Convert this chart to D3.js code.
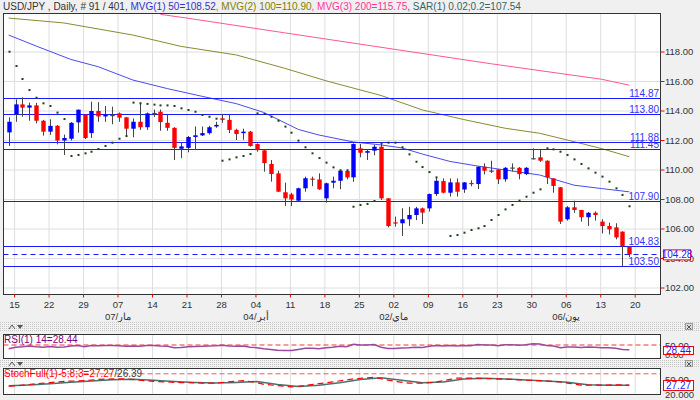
<!DOCTYPE html>
<html><head><meta charset="utf-8">
<script src="https://cdn.jsdelivr.net/npm/d3@7/dist/d3.min.js"></script>
<style>body{margin:0;background:#f0f0f0;}svg{display:block;font-family:"Liberation Sans",Arial,sans-serif;}</style>
</head><body><svg id="c" width="700" height="400"></svg>
<script>
// ---------- data ----------
const opens  =[112.55,113.78,114.45,114.23,114.38,113.34,112.60,113.00,112.00,112.12,113.23,113.75,112.50,114.00,113.63,113.72,113.84,113.57,112.80,113.27,112.90,113.86,113.95,113.20,112.86,111.44,111.50,112.24,112.35,112.50,112.95,113.50,113.40,112.72,112.50,112.60,111.76,111.33,110.41,109.77,108.49,108.35,107.92,108.76,109.42,109.36,108.08,109.14,109.27,109.93,109.50,111.47,111.17,111.31,111.58,108.08,106.45,106.39,106.66,106.95,107.40,107.40,108.37,109.25,108.46,109.16,108.68,109.12,109.05,110.22,109.95,110.04,109.37,110.16,110.15,109.72,110.79,110.86,110.63,109.43,108.83,106.66,107.47,107.29,106.80,107.10,106.50,106.20,106.11,105.82,104.80];
const highs  =[113.57,114.79,114.93,114.57,114.55,113.40,113.44,113.05,112.40,113.25,114.10,113.80,114.63,114.60,114.34,114.29,113.90,113.60,113.50,114.57,113.90,114.10,114.10,113.80,112.90,111.88,112.30,112.95,112.95,113.00,113.27,113.80,113.80,112.80,112.80,112.65,111.80,111.40,110.68,109.95,109.14,108.45,108.80,109.55,109.55,109.77,109.15,109.55,109.98,109.98,111.80,111.76,111.39,111.70,111.85,108.10,106.84,107.41,107.50,107.50,107.45,108.40,109.50,109.43,109.43,109.43,109.18,109.30,110.25,110.45,110.63,110.06,110.20,110.45,110.20,110.20,111.47,111.36,110.65,109.45,108.85,107.55,107.92,107.30,107.15,107.20,106.66,106.43,106.39,105.85,104.85];
const lows   =[111.63,113.27,113.61,113.34,113.16,112.33,112.38,111.74,111.02,112.00,112.53,112.10,112.17,113.27,113.27,113.10,113.27,112.27,112.22,112.72,112.72,113.60,112.66,112.66,110.68,110.80,111.20,111.35,112.30,112.40,112.86,113.20,112.50,112.03,112.05,111.58,111.24,109.89,109.21,108.50,107.56,107.56,107.85,108.53,108.90,108.65,107.79,108.76,108.70,109.37,109.20,110.86,110.68,111.00,107.97,106.11,106.16,105.53,106.20,106.60,106.34,107.18,108.24,108.42,108.20,108.20,108.45,108.90,108.71,109.70,109.80,109.05,109.20,109.90,109.37,109.65,110.72,110.55,109.05,108.46,106.34,106.57,107.10,106.50,106.20,106.57,105.70,105.63,105.30,103.49,104.09];
const closes =[113.27,114.45,114.23,114.38,113.34,112.60,112.99,112.00,112.17,113.20,114.09,112.17,114.00,113.63,113.75,113.73,113.55,112.80,113.27,112.90,113.84,113.87,113.25,112.86,111.50,111.60,112.24,112.35,112.50,112.90,113.06,113.40,112.72,112.44,112.60,111.63,111.35,110.47,109.73,108.53,108.08,108.00,108.76,109.44,109.36,108.69,109.10,109.27,109.95,109.50,111.76,111.17,111.28,111.58,108.08,106.20,106.40,106.66,106.95,107.40,107.11,108.37,109.27,108.46,109.16,108.53,109.16,109.05,110.22,109.95,109.96,109.37,110.15,110.17,109.72,110.15,110.80,110.63,109.50,108.92,106.50,107.47,107.29,106.80,107.10,106.95,106.20,105.98,105.43,104.85,104.28];
const sar    =[118.02,117.05,116.17,115.42,114.90,114.52,114.34,113.89,113.46,110.95,111.02,111.13,111.24,111.42,111.63,111.85,112.12,112.30,114.57,114.52,114.48,114.43,114.38,114.38,114.34,114.18,114.07,113.95,113.73,113.61,113.48,110.63,110.72,110.86,110.95,111.08,113.84,113.80,113.61,113.34,112.94,112.53,111.99,111.54,111.13,110.81,110.50,110.18,109.98,109.98,107.51,107.63,107.70,107.90,111.81,111.85,111.85,111.54,111.06,110.56,110.20,109.86,109.50,null,105.53,105.59,105.75,105.93,106.05,106.20,106.61,106.95,107.33,107.63,107.92,108.19,108.46,108.69,111.47,111.40,111.24,111.02,110.72,110.41,110.11,109.82,109.55,109.21,108.76,108.31,107.54];
const rsi    =[33,40,42,45,42,40,43,40,41,45,48,42,48,47,48,48,47,44,46,44,48,48,45,44,38,39,42,43,44,46,47,49,45,44,45,40,38,33,30,26,25,25,30,35,35,33,38,40,44,42,53,50,50,52,40,34,34,36,37,40,39,44,48,45,48,46,48,47,52,50,50,47,51,51,49,51,56,55,48,45,38,41,41,39,41,40,38,37,35,30,28.44];
const ma50Idx=[0,4,9,13,18,23,28,33,37,42,45,50,54,57,60,64,68,72,77,82,86,90];
const ma50Val=[119.15,118.40,117.50,117.00,116.10,115.52,115.00,114.50,113.90,112.75,112.37,111.90,111.70,111.50,111.08,110.58,110.27,110.00,109.66,108.97,108.74,108.52];
const ma100Idx=[0,8,18,25,33,40,46,54,60,66,72,77,82,86,90];
const ma100Val=[120.30,119.97,119.15,118.38,117.80,116.90,116.05,115.05,114.07,113.42,112.83,112.49,111.92,111.45,110.90];
const ma200Idx=[22,26,40,55,70,86,90];
const ma200Val=[120.55,120.29,119.30,118.25,117.20,116.15,115.75];
const kIdx=[0,2,4,6,8,11,13,16,17,19,21,23,25,28,30,33,34,36,37,40,41,43,45,47,50,53,54,56,58,60,62,64,65,68,70,73,75,77,80,81,83,86,88,90];
const kVal=[22,27,34,39,45,48,54,57,57,50,45,42,39,37,37,46,48,39,31,22,19,26,34,42,57,64,57,45,37,36,42,54,60,60,57,54,50,48,42,37,27,27,29,27.27];
const dIdx=[0,3,6,9,12,15,18,21,24,27,30,33,36,39,42,45,48,51,54,57,60,63,66,69,72,75,78,81,84,87,90];
const dVal=[24,28,34,41,47,52,55,50,44,40,37,40,44,30,21,27,38,54,62,50,38,42,56,59,56,51,47,41,29,27,26.39];
const xTickIdx=[1,6,11,16,21,26,31,36,41,46,51,56,61,66,71,76,81,86,91];
const xTickLabels=["15","22","29","07","14","21","28","04","11","18","25","02","09","16","23","30","06","13","20"];
const monthIdx=[16,36,56,81];
const monthLabels=["07/مار","04/أبر","02/ماي","06/يون"];
const levels=[114.87,113.80,111.88,111.45,107.90,104.83,103.50];
const lastPrice=104.28;
const yTicks=[102,104,106,108,110,112,114,116,118];
const rsiLast="28.44", stochK="27.27", stochD="26.39";

// ---------- drawing ----------
const svg=d3.select("#c");
const L=3.5,R=660.5,T=13.5,B=294.5;
const x=d3.scaleLinear().domain([0,90]).range([8.7,629.3]);
const y=d3.scaleLinear().domain([102,118]).range([288,52]);
const yR=d3.scaleLinear().domain([0,100]).range([356,334]);
const yS=d3.scaleLinear().domain([0,100]).range([391,369.5]);

const defs=svg.append("defs");
const pat=defs.append("pattern").attr("id","dots").attr("width",2).attr("height",2).attr("patternUnits","userSpaceOnUse");
pat.append("rect").attr("width",2).attr("height",2).attr("fill","#f2f2f2");
pat.append("rect").attr("width",1).attr("height",1).attr("fill","#c4c4c4");
function clip(id,y0,y1){defs.append("clipPath").attr("id",id).append("rect").attr("x",L).attr("y",y0).attr("width",R-L).attr("height",y1-y0);}
clip("cm",T,B);clip("cr",334.5,358.5);clip("cs",368.5,394.5);

svg.append("rect").attr("width",700).attr("height",400).attr("fill","#f0f0f0");

// header
const hdr=svg.append("text").attr("x",3).attr("y",10).attr("font-size",10);
[["USD/JPY , Daily, # 91 / 401","#333"],[", MVG(1) 50=108.52","#3333cc"],[", MVG(2) 100=110.90","#808000"],[", MVG(3) 200=115.75","#ff3399"],[", SAR(1) 0.02;0.2=107.54","#336666"]]
 .forEach(d=>hdr.append("tspan").attr("fill",d[1]).text(d[0]));

// main panel
svg.append("rect").attr("x",L).attr("y",T).attr("width",R-L).attr("height",B-T).attr("fill","#fff");
const g=svg.append("g");
g.selectAll(".vg").data(xTickIdx).join("line").attr("x1",d=>x(d)-1).attr("x2",d=>x(d)-1).attr("y1",T).attr("y2",B).attr("stroke","#dedede");
g.selectAll(".hg").data(yTicks).join("line").attr("x1",L).attr("x2",R).attr("y1",d=>y(d)).attr("y2",d=>y(d)).attr("stroke","#dedede");
const pm=svg.append("g").attr("clip-path","url(#cm)");
const ln=(xi,vi,ys)=>d3.line().x((d,i)=>x(xi[i])).y((d,i)=>ys(vi[i]))(xi);
pm.append("path").attr("d",ln(ma200Idx,ma200Val,y)).attr("fill","none").attr("stroke","#ff5599").attr("stroke-width",1);
pm.append("path").attr("d",ln(ma100Idx,ma100Val,y)).attr("fill","none").attr("stroke","#8a8a30").attr("stroke-width",1);
pm.append("path").attr("d",ln(ma50Idx,ma50Val,y)).attr("fill","none").attr("stroke","#4a4aee").attr("stroke-width",1);
// levels
pm.selectAll(".lv").data(levels).join("line").attr("x1",L).attr("x2",R).attr("y1",d=>Math.round(y(d))+0.5).attr("y2",d=>Math.round(y(d))+0.5).attr("stroke","#1a1aff").attr("stroke-width",1);
pm.append("line").attr("x1",L).attr("x2",R).attr("y1",Math.round(y(lastPrice))+0.5).attr("y2",Math.round(y(lastPrice))+0.5).attr("stroke","#1a1aff").attr("stroke-dasharray","5,4");
pm.selectAll(".lt").data(levels).join("text").attr("x",659).attr("y",d=>Math.round(y(d))-1).attr("text-anchor","end").attr("font-size",10).attr("fill","#3333ff").text(d=>d.toFixed(2));
// candles
const idx=d3.range(opens.length);
pm.selectAll(".wk").data(idx).join("line").attr("x1",i=>Math.round(x(i))+0.5).attr("x2",i=>Math.round(x(i))+0.5).attr("y1",i=>y(highs[i])).attr("y2",i=>y(lows[i])).attr("stroke","#444");
pm.selectAll(".bd").data(idx).join("rect").attr("x",i=>Math.round(x(i))-1.7).attr("width",4.4)
 .attr("y",i=>y(Math.max(opens[i],closes[i]))).attr("height",i=>Math.max(1.2,Math.abs(y(opens[i])-y(closes[i]))))
 .attr("fill",i=>Math.abs(closes[i]-opens[i])<0.03?"#444":(closes[i]>=opens[i]?"#0000ff":"#ff0000"));
pm.selectAll(".sr").data(idx.filter(i=>sar[i]!=null)).join("rect").attr("x",i=>Math.round(x(i))-0.5).attr("y",i=>y(sar[i])-1).attr("width",2).attr("height",2).attr("fill","#1d3d1d");
svg.append("rect").attr("x",L).attr("y",T).attr("width",R-L).attr("height",B-T).attr("fill","none").attr("stroke","#333");
// y axis
svg.selectAll(".yt").data(yTicks).join("line").attr("x1",R).attr("x2",R+4).attr("y1",d=>y(d)).attr("y2",d=>y(d)).attr("stroke","#ff0000");
svg.selectAll(".yl").data(yTicks).join("text").attr("x",665).attr("y",d=>y(d)+3.3).attr("font-size",9.5).attr("fill","#333").text(d=>d.toFixed(2));
svg.append("rect").attr("x",663.5).attr("y",y(lastPrice)-4.5).attr("width",27).attr("height",10).attr("fill","#fff").attr("stroke","#ff0000");
svg.append("text").attr("x",677).attr("y",y(lastPrice)+3.6).attr("text-anchor","middle").attr("font-size",10).attr("fill","#2020ff").text(lastPrice.toFixed(2));
// x axis
svg.selectAll(".xt").data(xTickIdx).join("line").attr("x1",d=>x(d)-1).attr("x2",d=>x(d)-1).attr("y1",B).attr("y2",B+3).attr("stroke","#ff0000");
svg.selectAll(".xl").data(xTickIdx).join("text").attr("x",d=>x(d)-1).attr("y",308).attr("text-anchor","middle").attr("font-size",9.5).attr("fill","#333").text((d,i)=>xTickLabels[i]);
svg.selectAll(".ml").data(monthIdx).join("text").attr("x",d=>x(d)-1).attr("y",320).attr("text-anchor","middle").attr("font-size",9.5).attr("fill","#333").text((d,i)=>monthLabels[i]);

// separators
function strip(y0,h){
  svg.append("rect").attr("x",0).attr("y",y0).attr("width",700).attr("height",h).attr("fill","url(#dots)");
  svg.append("path").attr("d",`M9,${y0+7} L12,${y0+3} L15,${y0+7}`).attr("fill","none").attr("stroke","#555");
  svg.append("path").attr("d",`M17,${y0+3} L23,${y0+3} L20,${y0+7} Z`).attr("fill","#555");
  svg.append("rect").attr("x",685.5).attr("y",y0+1.5).attr("width",7).attr("height",6).attr("fill","#ddd").attr("stroke","#999");
  svg.append("path").attr("d",`M687,${y0+3} L691,${y0+7} M691,${y0+3} L687,${y0+7}`).attr("stroke","#555");
}
strip(322,9);strip(359,8);

// indicator panels
function panel(y0,y1,cid){
  svg.append("rect").attr("x",L).attr("y",y0).attr("width",R-L).attr("height",y1-y0).attr("fill","#fff");
  svg.selectAll(null).data(xTickIdx).join("line").attr("x1",d=>x(d)-1).attr("x2",d=>x(d)-1).attr("y1",y0).attr("y2",y1).attr("stroke","#dedede");
  return svg.append("g").attr("clip-path",`url(#${cid})`);
}
const pr=panel(334.5,358.5,"cr");
pr.append("line").attr("x1",L).attr("x2",R).attr("y1",yR(50)).attr("y2",yR(50)).attr("stroke","#ff3333").attr("stroke-dasharray","5,3");
pr.append("path").attr("d",d3.line().x((d,i)=>x(i)).y(d=>yR(d))(rsi)).attr("fill","none").attr("stroke","#9a4a9a").attr("stroke-width",1.5);
svg.append("rect").attr("x",L).attr("y",334.5).attr("width",R-L).attr("height",24).attr("fill","none").attr("stroke","#333");
svg.append("text").attr("x",4).attr("y",343).attr("font-size",10).attr("fill","#800080").text("RSI(1) 14="+rsiLast);
svg.append("text").attr("x",665).attr("y",348.5).attr("font-size",9.5).attr("fill","#333").text("50.00");
svg.append("text").attr("x",665).attr("y",358).attr("font-size",9.5).attr("fill","#333").text("0.00");
svg.append("rect").attr("x",663.5).attr("y",346.5).attr("width",30).attr("height",8).attr("fill","#fff").attr("stroke","#ff0000");
svg.append("text").attr("x",678.5).attr("y",354).attr("text-anchor","middle").attr("font-size",10).attr("fill","#2020ff").text(rsiLast);

const ps=panel(368.5,394.5,"cs");
ps.append("line").attr("x1",L).attr("x2",R).attr("y1",yS(80)).attr("y2",yS(80)).attr("stroke","#ff5555").attr("stroke-dasharray","5,3");
ps.append("path").attr("d",ln(dIdx,dVal,yS)).attr("fill","none").attr("stroke","#4a7070").attr("stroke-width",1.5);
ps.append("path").attr("d",ln(kIdx,kVal,yS)).attr("fill","none").attr("stroke","#ff0000").attr("stroke-width",1.2).attr("stroke-dasharray","6,4");
svg.append("rect").attr("x",L).attr("y",368.5).attr("width",R-L).attr("height",26).attr("fill","none").attr("stroke","#333");
const st=svg.append("text").attr("x",4).attr("y",377).attr("font-size",10);
st.append("tspan").attr("fill","#ff0000").text("StochFull(1)-5;8;3="+stochK);
st.append("tspan").attr("fill","#404040").text("/"+stochD);
svg.append("text").attr("x",665).attr("y",383).attr("font-size",9.5).attr("fill","#333").text("50.00");
svg.append("text").attr("x",665).attr("y",398).attr("font-size",9.5).attr("fill","#333").text("20.000");
svg.append("rect").attr("x",663.5).attr("y",380.5).attr("width",30).attr("height",10).attr("fill","#fff").attr("stroke","#ff0000");
svg.append("text").attr("x",678.5).attr("y",389).attr("text-anchor","middle").attr("font-size",10).attr("fill","#2020ff").text(stochK);
</script></body></html>
